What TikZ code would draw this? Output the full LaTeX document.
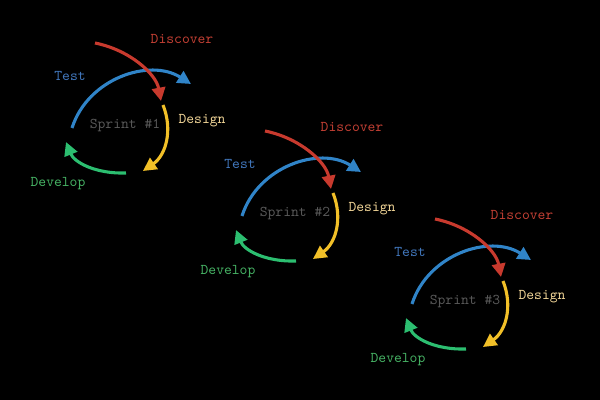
\documentclass[tikz,border=0pt]{standalone}
\usetikzlibrary{arrows.meta}

\definecolor{discred}{RGB}{200,58,46}
\definecolor{testblue}{RGB}{48,132,200}
\definecolor{desyellow}{RGB}{242,192,40}
\definecolor{devgreen}{RGB}{44,190,112}
\definecolor{desbeige}{RGB}{240,212,150}
\definecolor{devtext}{RGB}{70,178,100}
\definecolor{testtext}{RGB}{66,120,190}
\definecolor{disctext}{RGB}{196,64,52}

\begin{document}
\begin{tikzpicture}[x=0.025cm, y=-0.025cm,
    phase/.style={line width=2.2pt, -{Triangle[length=9.5pt, width=9.5pt]}},
    label/.style={font=\ttfamily\fontsize{10.6}{12}\selectfont, inner sep=0pt}]

% Background
\fill[black] (0,0) rectangle (600,400);
\useasboundingbox (0,0) rectangle (600,400);

% One cycle per sprint, shifted down the diagonal
\foreach \n in {1,2,3} {
\begin{scope}[shift={({(\n-1)*170},{(\n-1)*88})}]
    % End points of the arcs
    \coordinate (r\n a) at (95,43);   \coordinate (r\n b) at (161,101);
    \coordinate (b\n a) at (72,128);  \coordinate (b\n b) at (191,84);
    \coordinate (y\n a) at (163,105); \coordinate (y\n b) at (143,171);
    \coordinate (g\n a) at (126,173); \coordinate (g\n b) at (66,142);

    % Arcs
    \draw[phase, testblue] (b\n a) .. controls (88,78) and (150,58) .. (b\n b);
    \draw[phase, discred] (r\n a) .. controls (130,50) and (156,74) .. (r\n b);
    \draw[phase, desyellow] (y\n a) .. controls (173,130) and (166,155) .. (y\n b);
    \draw[phase, devgreen] (g\n a) .. controls (95,174) and (74,162) .. (g\n b);

    % Labels
    \node[label, disctext] (disc\n) at (182,39) {Discover};
    \node[label, testtext] (test\n) at (70,76) {Test};
    \node[label, desbeige] (des\n) at (202,121) {Design};
    \node[label, devtext] (dev\n) at (58,184) {Develop};
    \node[label, gray!70!black] (spr\n) at (125,126) {Sprint \#\n};
\end{scope}
}

\end{tikzpicture}
\end{document}
